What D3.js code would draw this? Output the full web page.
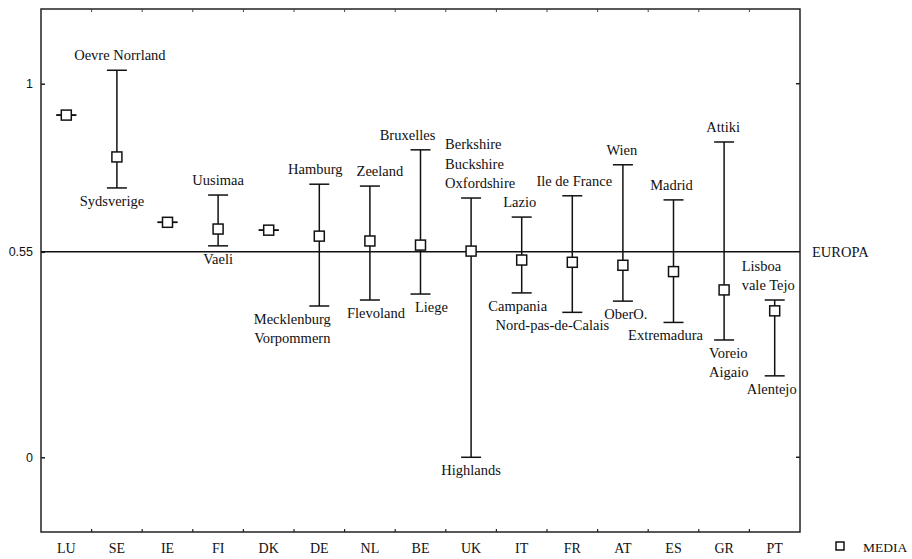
<!DOCTYPE html>
<html>
<head>
<meta charset="utf-8">
<script src="https://cdn.jsdelivr.net/npm/d3@7"></script>
<style>
  html, body { margin: 0; padding: 0; background: #fff; }
  svg { display: block; }
</style>
</head>
<body>
<svg id="chart" width="912" height="559"></svg>
<script>
// Country codes along the x axis
const categories = ["LU","SE","IE","FI","DK","DE","NL","BE","UK","IT","FR","AT","ES","GR","PT"];
// Mean of the regions in each country (square marker)
const media    = [0.916, 0.804, 0.629, 0.611, 0.608, 0.592, 0.579, 0.568, 0.552, 0.528, 0.522, 0.514, 0.497, 0.448, 0.392];
// Highest and lowest region in each country (whisker ends)
const maxVals  = [0.916, 1.036, 0.629, 0.702, 0.608, 0.731, 0.726, 0.823, 0.694, 0.643, 0.700, 0.783, 0.689, 0.844, 0.421];
const minVals  = [0.916, 0.721, 0.629, 0.566, 0.608, 0.405, 0.421, 0.437, 0.000, 0.440, 0.388, 0.418, 0.361, 0.314, 0.218];
// Names of the highest / lowest regions (one entry per text line)
const maxLabels = [[], ["Oevre Norrland"], [], ["Uusimaa"], [], ["Hamburg"], ["Zeeland"], ["Bruxelles"],
                   ["Berkshire","Buckshire","Oxfordshire"], ["Lazio"], ["Ile de France"], ["Wien"],
                   ["Madrid"], ["Attiki"], ["Lisboa","vale Tejo"]];
const minLabels = [[], ["Sydsverige"], [], ["Vaeli"], [], ["Mecklenburg","Vorpommern"], ["Flevoland"], ["Liege"],
                   ["Highlands"], ["Campania"], ["Nord-pas-de-Calais"], ["OberO."], ["Extremadura"],
                   ["Voreio","Aigaio"], ["Alentejo"]];
// European average reference line
const europa = 0.55;
const europaLabel = "EUROPA";
const yTicks = [0, 0.55, 1];
const legendLabel = "MEDIA";

// Label placement tweaks (horizontal nudge and text anchor) per country
const labelNudge = {
  SE: { top: [3, "middle"], bottom: [-5, "middle"] },
  DE: { top: [-4, "middle"], bottom: [-27, "middle"] },
  NL: { top: [10, "middle"], bottom: [6, "middle"] },
  BE: { top: [-13, "middle"], bottom: [11, "middle"] },
  UK: { top: [-26, "start"], bottom: [0, "middle"] },
  IT: { top: [-2, "middle"], bottom: [-4, "middle"] },
  FR: { top: [2, "middle"], bottom: [-20, "middle"] },
  AT: { top: [-1, "middle"], bottom: [3, "middle"] },
  ES: { top: [-2, "middle"], bottom: [-8, "middle"] },
  GR: { top: [-1, "middle"], bottom: [-15, "start"] },
  PT: { top: [-33, "start"], bottom: [-3, "middle"] }
};

const SERIF = '"Liberation Serif", "Times New Roman", "DejaVu Serif", serif';
const SANS = '"Liberation Sans", Arial, "DejaVu Sans", sans-serif';

const margin = { left: 41, right: 800, top: 9, bottom: 532 };
const svg = d3.select("#chart");

const x = d3.scaleBand().domain(categories).range([margin.left, margin.right]).padding(0);
const y = d3.scaleLinear().domain([-0.2, 1.2]).range([margin.bottom, margin.top]);
const cx = c => x(c) + x.bandwidth() / 2;

const serifText = (sel, size) => sel.style("font-family", SERIF).style("font-size", size + "px").attr("fill", "#111");

// Frame
svg.append("rect")
  .attr("x", margin.left).attr("y", margin.top)
  .attr("width", margin.right - margin.left).attr("height", margin.bottom - margin.top)
  .attr("fill", "none").attr("stroke", "#222").attr("stroke-width", 1.5);

// Left axis (ticks inside)
const yAxis = d3.axisLeft(y).tickValues(yTicks).tickSize(-4).tickPadding(8)
  .tickFormat(d => d === 0.55 ? "0.55" : d3.format("d")(d));
const gy = svg.append("g").attr("transform", `translate(${margin.left},0)`).call(yAxis);
gy.select(".domain").remove();
gy.selectAll("line").attr("stroke", "#222").attr("stroke-width", 1.5);
gy.selectAll("text").style("font-family", SANS).style("font-size", "12.5px").attr("fill", "#111");

// Right side ticks
svg.append("g").selectAll("line").data([0, 1]).join("line")
  .attr("x1", margin.right - 4).attr("x2", margin.right)
  .attr("y1", d => y(d)).attr("y2", d => y(d))
  .attr("stroke", "#222").attr("stroke-width", 1.5);

// Bottom axis: country labels
const xAxis = d3.axisBottom(x).tickSize(0).tickPadding(11);
const gx = svg.append("g").attr("transform", `translate(0,${margin.bottom})`).call(xAxis);
gx.select(".domain").remove();
serifText(gx.selectAll("text"), 14);

// Boundary ticks between countries (bottom and top, pointing inward)
const bounds = categories.slice(1).map(c => x(c));
svg.append("g").selectAll("line").data(bounds).join("line")
  .attr("x1", d => d).attr("x2", d => d)
  .attr("y1", margin.bottom).attr("y2", margin.bottom - 3)
  .attr("stroke", "#222").attr("stroke-width", 1.2);
svg.append("g").selectAll("line").data(bounds).join("line")
  .attr("x1", d => d).attr("x2", d => d)
  .attr("y1", margin.top).attr("y2", margin.top + 3)
  .attr("stroke", "#444").attr("stroke-width", 1);

// European average line
svg.append("line")
  .attr("x1", margin.left).attr("x2", margin.right)
  .attr("y1", y(europa)).attr("y2", y(europa))
  .attr("stroke", "#111").attr("stroke-width", 1.5);
serifText(svg.append("text"), 14.5)
  .attr("x", 812).attr("y", y(europa) + 5).text(europaLabel);

// Error bars
const rows = categories.map((c, i) => ({ c, mean: media[i], hi: maxVals[i], lo: minVals[i], top: maxLabels[i], bot: minLabels[i] }));
const capW = 10;
const bars = svg.append("g").selectAll("g").data(rows).join("g");
bars.append("line")
  .attr("x1", d => cx(d.c)).attr("x2", d => cx(d.c))
  .attr("y1", d => y(d.hi)).attr("y2", d => y(d.lo))
  .attr("stroke", "#111").attr("stroke-width", 1.5);
bars.append("line")
  .attr("x1", d => cx(d.c) - capW).attr("x2", d => cx(d.c) + capW)
  .attr("y1", d => y(d.hi)).attr("y2", d => y(d.hi))
  .attr("stroke", "#111").attr("stroke-width", 1.5);
bars.append("line")
  .attr("x1", d => cx(d.c) - capW).attr("x2", d => cx(d.c) + capW)
  .attr("y1", d => y(d.lo)).attr("y2", d => y(d.lo))
  .attr("stroke", "#111").attr("stroke-width", 1.5);
// Mean markers
bars.append("rect")
  .attr("x", d => cx(d.c) - 5).attr("y", d => y(d.mean) - 5)
  .attr("width", 10).attr("height", 10)
  .attr("fill", "#fff").attr("stroke", "#111").attr("stroke-width", 1.5);

// Region labels
const lineH = 19.5;
rows.forEach(d => {
  const nudge = labelNudge[d.c] || { top: [0, "middle"], bottom: [0, "middle"] };
  const n = d.top.length;
  d.top.forEach((t, k) => {
    serifText(svg.append("text"), 14.5)
      .attr("text-anchor", nudge.top[1])
      .attr("x", cx(d.c) + nudge.top[0])
      .attr("y", y(d.hi) - 10 - (n - 1 - k) * lineH)
      .text(t);
  });
  d.bot.forEach((t, k) => {
    serifText(svg.append("text"), 14.5)
      .attr("text-anchor", nudge.bottom[1])
      .attr("x", cx(d.c) + nudge.bottom[0])
      .attr("y", y(d.lo) + 18 + k * lineH)
      .text(t);
  });
});

// Legend
svg.append("rect").attr("x", 836).attr("y", 542).attr("width", 8).attr("height", 8)
  .attr("fill", "#fff").attr("stroke", "#111").attr("stroke-width", 1.5);
serifText(svg.append("text"), 13.5)
  .attr("x", 863).attr("y", 552).text(legendLabel);
</script>
</body>
</html>
